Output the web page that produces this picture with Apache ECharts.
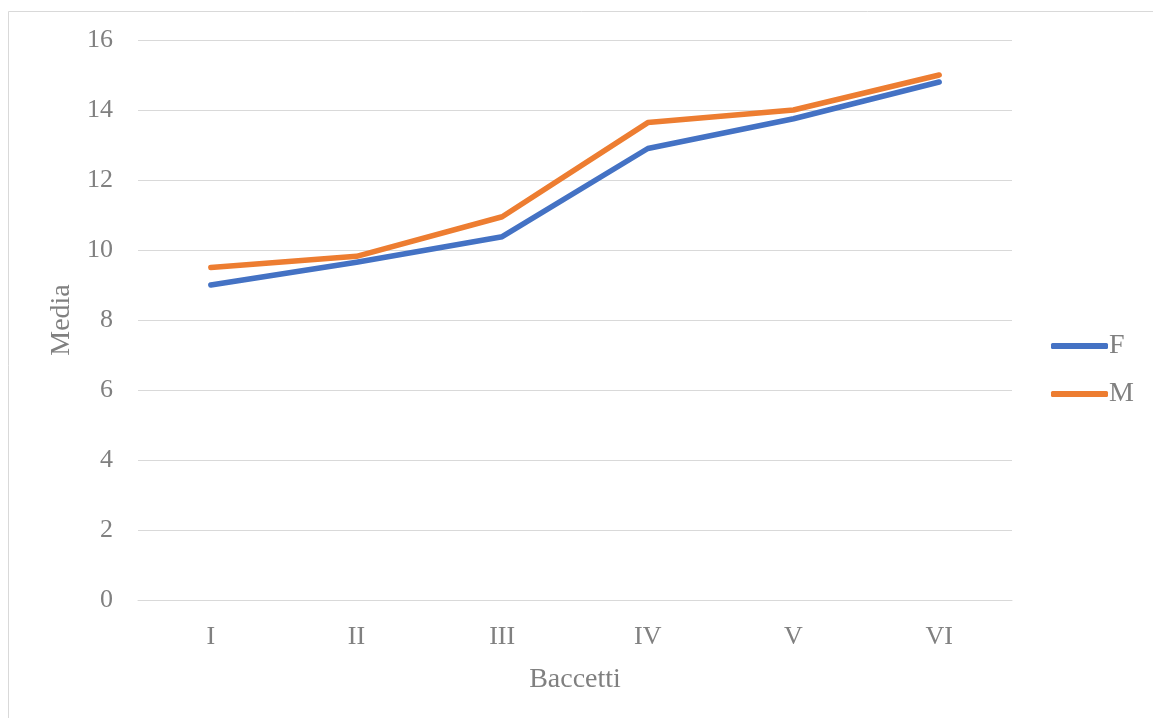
<!DOCTYPE html>
<html>
<head>
<meta charset="utf-8">
<script src="https://cdn.jsdelivr.net/npm/echarts@6/dist/echarts.min.js"></script>
<style>
  html, body { margin: 0; padding: 0; background: #fff; }
  #chart { width: 1153px; height: 718px; }
</style>
</head>
<body>
<div id="chart"></div>
<script>
// Mean values per group (Baccetti I–VI), split by sex
const categories = ['I', 'II', 'III', 'IV', 'V', 'VI'];
const seriesF = [9.0, 9.65, 10.38, 12.9, 13.75, 14.8];
const seriesM = [9.5, 9.82, 10.95, 13.64, 14.0, 15.0];
const yTicks = { min: 0, max: 16, interval: 2 };

const textColor = '#808080';
const serif = '"Liberation Serif", "DejaVu Serif", serif';

const chart = echarts.init(document.getElementById('chart'), null, { renderer: 'canvas' });

chart.setOption({
  animation: false,
  backgroundColor: '#fff',
  graphic: [{
    type: 'rect',
    shape: { x: 8.5, y: 11.5, width: 1170, height: 730 },
    style: { fill: 'none', stroke: '#d9d9d9', lineWidth: 1 },
    silent: true
  }],
  grid: { left: 138, right: 141, top: 40, bottom: 118 },
  legend: {
    orient: 'vertical',
    left: 1046,
    top: 327,
    itemWidth: 57,
    itemHeight: 6,
    itemGap: 20,
    textStyle: { color: textColor, fontFamily: serif, fontSize: 28, padding: [0, 0, 0, -4] },
    data: [
      { name: 'F', icon: 'roundRect' },
      { name: 'M', icon: 'roundRect' }
    ]
  },
  xAxis: {
    type: 'category',
    data: categories,
    boundaryGap: true,
    name: 'Baccetti',
    nameLocation: 'middle',
    nameGap: 66,
    nameTextStyle: { color: textColor, fontFamily: serif, fontSize: 28 },
    axisLine: { show: true, lineStyle: { color: '#d9d9d9', width: 1 } },
    axisTick: { show: false },
    axisLabel: { color: textColor, fontFamily: serif, fontSize: 26, margin: 24 }
  },
  yAxis: {
    type: 'value',
    min: yTicks.min,
    max: yTicks.max,
    interval: yTicks.interval,
    name: 'Media',
    nameLocation: 'middle',
    nameGap: 62,
    nameTextStyle: { color: textColor, fontFamily: serif, fontSize: 28 },
    axisLine: { show: false },
    axisTick: { show: false },
    axisLabel: { color: textColor, fontFamily: serif, fontSize: 26, margin: 25 },
    splitLine: { lineStyle: { color: '#d9d9d9', width: 1 } }
  },
  series: [
    {
      name: 'F',
      type: 'line',
      data: seriesF,
      showSymbol: false,
      symbol: 'none',
      color: '#4472C4',
      lineStyle: { width: 5.5, cap: 'round', join: 'round' }
    },
    {
      name: 'M',
      type: 'line',
      data: seriesM,
      showSymbol: false,
      symbol: 'none',
      color: '#ED7D31',
      lineStyle: { width: 5.5, cap: 'round', join: 'round' }
    }
  ]
});
</script>
</body>
</html>
